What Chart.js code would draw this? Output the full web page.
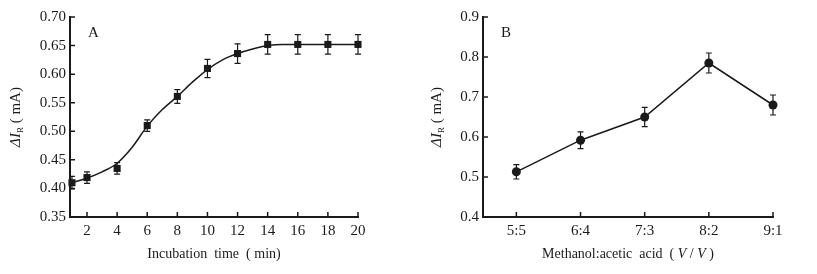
<!DOCTYPE html>
<html>
<head>
<meta charset="utf-8">
<script src="https://cdn.jsdelivr.net/npm/chart.js@4.4.0/dist/chart.umd.min.js"></script>
<style>
  body { margin: 0; background: #fff; }
  #wrap { position: relative; width: 817px; height: 274px; }
  #chartA { position: absolute; left: 0; top: 0; }
  #chartB { position: absolute; left: 400px; top: 0; }
</style>
</head>
<body>
<div id="wrap">
  <canvas id="chartA" width="400" height="274"></canvas>
  <canvas id="chartB" width="417" height="274"></canvas>
</div>
<script>
// Panel A: incubation time (measured points)
const timeValues = [1, 2, 4, 6, 8, 10, 12, 14, 16, 18, 20];
const currentA = [0.41, 0.419, 0.435, 0.51, 0.561, 0.61, 0.636, 0.652, 0.652, 0.652, 0.652];
const errorA = [0.011, 0.01, 0.01, 0.01, 0.012, 0.016, 0.017, 0.017, 0.017, 0.017, 0.017];
// Panel A: fitted curve
const fitTimes = [1, 2, 3, 4, 5, 6, 7, 8, 9, 10, 11, 12, 13, 14, 15, 16, 18, 20];
const fitCurrentA = [0.41, 0.418, 0.429, 0.444, 0.472, 0.509, 0.538, 0.561, 0.586, 0.608, 0.625, 0.636, 0.644, 0.65, 0.652, 0.652, 0.652, 0.652];
const xTicksA = [2, 4, 6, 8, 10, 12, 14, 16, 18, 20];
const yTicksA = [0.35, 0.4, 0.45, 0.5, 0.55, 0.6, 0.65, 0.7];

// Panel B: methanol / acetic acid ratio
const ratioLabels = ["5:5", "6:4", "7:3", "8:2", "9:1"];
const currentB = [0.513, 0.592, 0.65, 0.785, 0.68];
const errorB = [0.018, 0.021, 0.024, 0.025, 0.025];
const yTicksB = [0.4, 0.5, 0.6, 0.7, 0.8, 0.9];

const INK = "#1a1a1a";
const SERIF = "'Liberation Serif', 'DejaVu Serif', serif";

// draw a row of text pieces with different fonts, centred on x
function drawRuns(ctx, runs, x, y) {
  let total = 0;
  runs.forEach((r) => {
    ctx.font = r.font;
    total += ctx.measureText(r.text).width;
  });
  let cx = x - total / 2;
  ctx.textAlign = "left";
  ctx.textBaseline = "alphabetic";
  runs.forEach((r) => {
    ctx.font = r.font;
    ctx.fillText(r.text, cx, y + (r.dy || 0));
    cx += ctx.measureText(r.text).width;
  });
}

// inward ticks, error bars, titles
const decorPlugin = {
  id: "decor",
  afterDatasetsDraw(chart, args, opts) {
    const ctx = chart.ctx;
    const xs = chart.scales.x;
    const ys = chart.scales.y;
    const area = chart.chartArea;
    ctx.save();
    ctx.strokeStyle = INK;
    ctx.fillStyle = INK;

    // inward tick marks
    ctx.lineWidth = 1.5;
    ctx.beginPath();
    xs.ticks.forEach((t) => {
      const px = xs.getPixelForValue(t.value);
      ctx.moveTo(px, area.bottom);
      ctx.lineTo(px, area.bottom - 5);
    });
    ys.ticks.forEach((t) => {
      const py = ys.getPixelForValue(t.value);
      ctx.moveTo(area.left, py);
      ctx.lineTo(area.left + 5, py);
    });
    ctx.stroke();

    // error bars
    const ds = chart.data.datasets[opts.errIndex];
    ctx.lineWidth = 1.2;
    ctx.beginPath();
    ds.data.forEach((p, i) => {
      const px = xs.getPixelForValue(p.x);
      const top = ys.getPixelForValue(p.y + opts.errors[i]);
      const bot = ys.getPixelForValue(p.y - opts.errors[i]);
      ctx.moveTo(px, top);
      ctx.lineTo(px, bot);
      ctx.moveTo(px - 3, top);
      ctx.lineTo(px + 3, top);
      ctx.moveTo(px - 3, bot);
      ctx.lineTo(px + 3, bot);
    });
    ctx.stroke();

    // panel letter
    ctx.font = "15px " + SERIF;
    ctx.textAlign = "left";
    ctx.textBaseline = "alphabetic";
    ctx.fillText(opts.letter, opts.letterX, 37);

    // x title
    drawRuns(ctx, opts.xTitle, (area.left + area.right) / 2, 258);

    // y title, rotated
    ctx.translate(opts.yTitleX, (area.top + area.bottom) / 2);
    ctx.rotate(-Math.PI / 2);
    drawRuns(ctx, [
      { text: "\u0394I", font: "italic 15px " + SERIF },
      { text: "R", font: "9px " + SERIF, dy: 3 },
      { text: " ( mA)", font: "15px " + SERIF },
    ], 0, 5);
    ctx.restore();
  },
};

function baseScales(xMin, xMax, xTicks, xLabel, yTicks, yWidth) {
  return {
    x: {
      type: "linear",
      min: xMin,
      max: xMax,
      afterBuildTicks: (s) => { s.ticks = xTicks.map((v) => ({ value: v })); },
      afterFit: (s) => { s.height = 57; },
      grid: { display: false, drawTicks: false },
      border: { display: true, color: INK, width: 2 },
      ticks: {
        color: INK,
        font: { family: SERIF, size: 15 },
        padding: 5,
        maxRotation: 0,
        autoSkip: false,
        callback: xLabel,
      },
    },
    y: {
      min: yTicks[0],
      max: yTicks[yTicks.length - 1],
      afterBuildTicks: (s) => { s.ticks = yTicks.map((v) => ({ value: v })); },
      afterFit: (s) => { s.width = yWidth; },
      grid: { display: false, drawTicks: false },
      border: { display: true, color: INK, width: 2 },
      ticks: {
        color: INK,
        font: { family: SERIF, size: 15 },
        padding: 4,
        callback: (v) => (yTicks[1] - yTicks[0] < 0.09 ? v.toFixed(2) : v.toFixed(1)),
      },
    },
  };
}

new Chart(document.getElementById("chartA"), {
  type: "line",
  data: {
    datasets: [
      {
        // measured points (error bars drawn from this one)
        data: timeValues.map((t, i) => ({ x: t, y: currentA[i] })),
        showLine: false,
        borderColor: INK,
        backgroundColor: INK,
        clip: false,
        pointStyle: "rect",
        pointRadius: 5,
        pointBorderWidth: 0,
      },
      {
        // fitted curve
        data: fitTimes.map((t, i) => ({ x: t, y: fitCurrentA[i] })),
        borderColor: INK,
        borderWidth: 1.5,
        cubicInterpolationMode: "monotone",
        pointRadius: 0,
        clip: false,
      },
    ],
  },
  options: {
    responsive: false,
    animation: false,
    layout: { padding: { left: 0, top: 17, right: 42, bottom: 0 } },
    plugins: {
      legend: { display: false },
      tooltip: { enabled: false },
      decor: {
        errIndex: 0,
        errors: errorA,
        letter: "A",
        letterX: 88,
        yTitleX: 15,
        xTitle: [{ text: "Incubation  time  ( min)", font: "14px " + SERIF }],
      },
    },
    scales: baseScales(0.87, 20, xTicksA, (v) => v, yTicksA, 70),
  },
  plugins: [decorPlugin],
});

new Chart(document.getElementById("chartB"), {
  type: "line",
  data: {
    datasets: [{
      data: ratioLabels.map((_, i) => ({ x: i, y: currentB[i] })),
      borderColor: INK,
      backgroundColor: INK,
      borderWidth: 1.5,
      tension: 0,
      clip: false,
      pointStyle: "circle",
      pointRadius: 4.5,
      pointBorderWidth: 0,
    }],
  },
  options: {
    responsive: false,
    animation: false,
    layout: { padding: { left: 0, top: 17, right: 44, bottom: 0 } },
    plugins: {
      legend: { display: false },
      tooltip: { enabled: false },
      decor: {
        errIndex: 0,
        errors: errorB,
        letter: "B",
        letterX: 101,
        yTitleX: 36,
        xTitle: [
          { text: "Methanol:acetic  acid  ( ", font: "14px " + SERIF },
          { text: "V", font: "italic 14px " + SERIF },
          { text: " / ", font: "14px " + SERIF },
          { text: "V", font: "italic 14px " + SERIF },
          { text: " )", font: "14px " + SERIF },
        ],
      },
    },
    scales: baseScales(-0.52, 4, ratioLabels.map((_, i) => i), (v) => ratioLabels[v] || "", yTicksB, 83),
  },
  plugins: [decorPlugin],
});
</script>
</body>
</html>
